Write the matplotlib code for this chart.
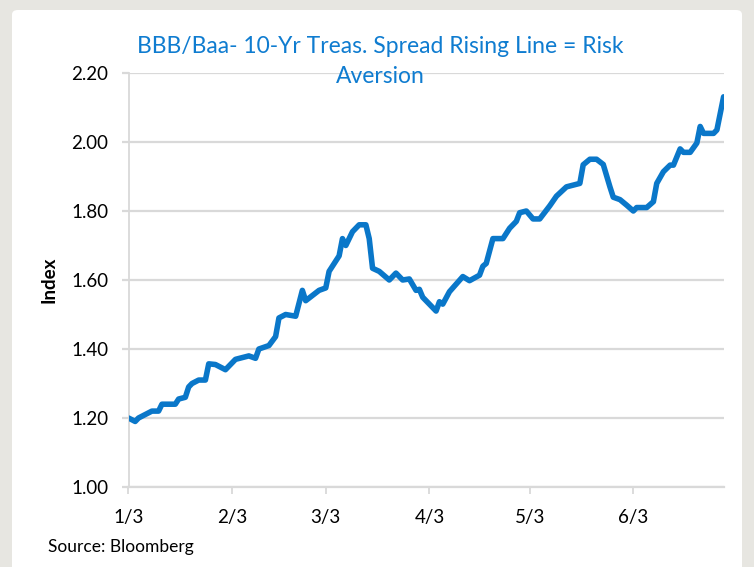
import matplotlib
matplotlib.use("Agg")
import matplotlib.pyplot as plt
from matplotlib.patches import FancyBboxPatch
import numpy as np

plt.rcParams['font.family'] = ['Lato', 'DejaVu Sans']

dates = ["2022-01-03", "2022-01-05", "2022-01-06", "2022-01-08", "2022-01-10", "2022-01-12",
         "2022-01-13", "2022-01-17", "2022-01-18", "2022-01-20", "2022-01-21", "2022-01-22",
         "2022-01-24", "2022-01-26", "2022-01-27", "2022-01-29", "2022-02-01", "2022-02-03",
         "2022-02-04", "2022-02-08", "2022-02-10", "2022-02-11", "2022-02-14", "2022-02-16",
         "2022-02-17", "2022-02-19", "2022-02-22", "2022-02-24", "2022-02-25", "2022-03-01",
         "2022-03-03", "2022-03-04", "2022-03-07", "2022-03-08", "2022-03-09", "2022-03-11",
         "2022-03-13", "2022-03-15", "2022-03-16", "2022-03-17", "2022-03-19", "2022-03-22",
         "2022-03-24", "2022-03-26", "2022-03-28", "2022-03-30", "2022-03-31", "2022-04-01",
         "2022-04-05", "2022-04-06", "2022-04-07", "2022-04-09", "2022-04-13", "2022-04-15",
         "2022-04-18", "2022-04-19", "2022-04-20", "2022-04-22", "2022-04-25", "2022-04-27",
         "2022-04-29", "2022-04-30", "2022-05-02", "2022-05-04", "2022-05-06", "2022-05-09",
         "2022-05-11", "2022-05-14", "2022-05-18", "2022-05-19", "2022-05-21", "2022-05-23",
         "2022-05-25", "2022-05-27", "2022-05-28", "2022-05-30", "2022-06-01", "2022-06-03",
         "2022-06-04", "2022-06-07", "2022-06-09", "2022-06-10", "2022-06-12", "2022-06-14",
         "2022-06-15", "2022-06-17", "2022-06-18", "2022-06-20", "2022-06-22", "2022-06-23",
         "2022-06-24", "2022-06-27", "2022-06-28", "2022-06-29", "2022-06-30"]
values = [1.200, 1.190, 1.200, 1.210, 1.220, 1.220,
          1.240, 1.240, 1.255, 1.260, 1.290, 1.300,
          1.310, 1.310, 1.357, 1.355, 1.340, 1.360,
          1.370, 1.380, 1.373, 1.400, 1.410, 1.436,
          1.490, 1.500, 1.495, 1.570, 1.540, 1.570,
          1.577, 1.625, 1.670, 1.720, 1.700, 1.740,
          1.760, 1.760, 1.720, 1.634, 1.625, 1.600,
          1.620, 1.600, 1.603, 1.570, 1.573, 1.550,
          1.510, 1.537, 1.530, 1.566, 1.610, 1.598,
          1.614, 1.640, 1.648, 1.720, 1.720, 1.750,
          1.770, 1.795, 1.800, 1.777, 1.777, 1.815,
          1.843, 1.870, 1.880, 1.934, 1.950, 1.950,
          1.935, 1.870, 1.840, 1.833, 1.817, 1.800,
          1.810, 1.810, 1.827, 1.880, 1.914, 1.933,
          1.933, 1.980, 1.970, 1.970, 1.997, 2.045,
          2.025, 2.025, 2.035, 2.083, 2.131]

tick_dates = ["2022-01-03", "2022-02-03", "2022-03-03", "2022-04-03", "2022-05-03", "2022-06-03"]
tick_labels = ["1/3", "2/3", "3/3", "4/3", "5/3", "6/3"]
y_ticks = [1.00, 1.20, 1.40, 1.60, 1.80, 2.00, 2.20]

title = "BBB/Baa- 10-Yr Treas. Spread Rising Line = Risk\nAversion"
y_label = "Index"
source = "Source: Bloomberg"

W, H = 754, 567
fig = plt.figure(figsize=(W / 100, H / 100), dpi=100)
fig.patch.set_facecolor("#e7e6e1")
panel = FancyBboxPatch((12 / W, -0.05), (742 - 12) / W, (H - 10) / H + 0.05,
                       boxstyle="round,pad=0,rounding_size=0.008",
                       transform=fig.transFigure, facecolor="white", edgecolor="none", zorder=-5)
fig.patches.append(panel)

ax = fig.add_axes([128.5 / W, 1 - 487 / H, (723.6 - 128.5) / W, (487 - 73) / H])
ax.set_facecolor("none")
ax.set_zorder(2)

x = np.array(dates, dtype="datetime64[D]").astype("O")
ax.plot(x, values, color="#0a77c9", linewidth=4.0, solid_joinstyle="round",
        solid_capstyle="round", zorder=3)

ax.set_ylim(1.0, 2.2)
ax.set_yticks(y_ticks)
ax.set_yticklabels([f"{v:.2f}" for v in y_ticks])
xt = np.array(tick_dates, dtype="datetime64[D]").astype("O")
ax.set_xticks(xt)
ax.set_xticklabels(tick_labels)
ax.set_xlim(np.datetime64("2022-01-03").astype("O"), np.datetime64("2022-06-30").astype("O"))

grid_c = "#d9d9d9"
ax.yaxis.grid(True, color=grid_c, linewidth=1.6, zorder=0)
ax.set_axisbelow(True)
for s in ["top", "right"]:
    ax.spines[s].set_visible(False)
ax.spines["left"].set_color(grid_c)
ax.spines["left"].set_linewidth(1.3)
ax.spines["bottom"].set_color(grid_c)
ax.spines["bottom"].set_linewidth(1.6)
ax.tick_params(axis="y", length=5, width=1.6, color=grid_c, labelsize=13.5, pad=9.5, labelcolor="black")
ax.tick_params(axis="x", length=5, width=1.3, color=grid_c, labelsize=13.5, pad=11, labelcolor="black")

ax.set_ylabel(y_label, fontsize=13.5, fontweight="bold")
ax.yaxis.set_label_coords(-(128.5 - 49) / (723.6 - 128.5), (487 - 280) / (487 - 73))
ax.yaxis.label.set_va("center")

fig.text(380 / W, 1 - 61.5 / H, title, color="#0f7cd0", fontsize=16.5, ha="center", va="center",
         linespacing=1.5)
fig.text(48 / W, 1 - 547 / H, source, fontsize=12.5, ha="left", va="center")

fig.savefig("out.png", dpi=100, facecolor=fig.get_facecolor())
